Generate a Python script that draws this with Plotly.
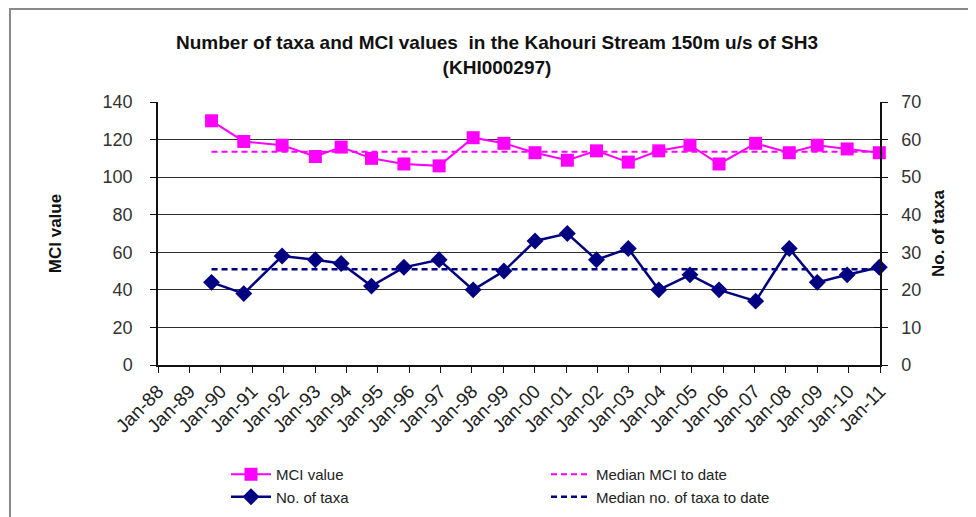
import plotly.graph_objects as go

# ---- data ----
sample_dates = ["1989-09-15", "1990-09-25", "1991-12-15", "1993-01-05", "1993-11-01",
                "1994-10-20", "1995-11-01", "1996-12-15", "1998-01-15", "1999-01-08",
                "2000-01-05", "2001-01-15", "2001-12-20", "2002-12-25", "2003-12-15",
                "2004-12-12", "2005-11-15", "2007-01-15", "2008-02-10", "2009-01-01",
                "2009-12-15", "2010-12-24"]
mci_values = [130, 119, 117, 111, 116, 110, 107, 106, 121, 118, 113,
              109, 114, 108, 114, 117, 107, 118, 113, 117, 115, 113]
taxa_counts = [22, 19, 29, 28, 27, 21, 26, 28, 20, 25, 33,
               35, 28, 31, 20, 24, 20, 17, 31, 22, 24, 26]
median_mci = 113.5
median_taxa = 25.5

x_start, x_end = "1988-01-01", "2011-01-01"
mci_range = [0, 140]
taxa_range = [0, 70]

# page offset of the figure inside the html body (default 8px body margin)
OFF = 8
PAGE_W, PAGE_H = 976, 517
W, H = PAGE_W - OFF, PAGE_H - OFF
# plot area in page pixels
P_LEFT, P_RIGHT, P_TOP, P_BOTTOM = 158, 880, 102, 365
ML, MT = P_LEFT - OFF, P_TOP - OFF
PW, PH = P_RIGHT - P_LEFT, P_BOTTOM - P_TOP
MR, MB = W - ML - PW, H - MT - PH

FONT = "Liberation Sans, Arial, sans-serif"
NARROW = "Liberation Sans Narrow, Arial Narrow, Liberation Sans, sans-serif"
MAGENTA = "#FF00FF"
NAVY = "#000080"

fig = go.Figure()

median_x = [sample_dates[0], sample_dates[-1]]

fig.add_trace(go.Scatter(
    x=median_x, y=[median_mci, median_mci], mode="lines", name="Median MCI to date",
    line=dict(color=MAGENTA, width=2, dash="6px,4px"), legendrank=2, yaxis="y"))
fig.add_trace(go.Scatter(
    x=sample_dates, y=mci_values, mode="lines+markers", name="MCI value",
    line=dict(color=MAGENTA, width=2),
    marker=dict(symbol="square", size=13, color=MAGENTA),
    cliponaxis=False, legendrank=1, yaxis="y"))
fig.add_trace(go.Scatter(
    x=median_x, y=[median_taxa, median_taxa], mode="lines", name="Median no. of taxa to date",
    line=dict(color=NAVY, width=2.5, dash="6px,4px"), legendrank=4, yaxis="y2"))
fig.add_trace(go.Scatter(
    x=sample_dates, y=taxa_counts, mode="lines+markers", name="No. of taxa",
    line=dict(color=NAVY, width=2.5),
    marker=dict(symbol="diamond", size=13, color=NAVY),
    cliponaxis=False, legendrank=3, yaxis="y2"))

def px_x(p):
    """page pixel x -> paper fraction"""
    return (p - P_LEFT) / PW

def px_y(p):
    """page pixel y -> paper fraction"""
    return (P_BOTTOM - p) / PH

fig.update_layout(
    width=W, height=H,
    margin=dict(l=ML, r=MR, t=MT, b=MB, autoexpand=False),
    paper_bgcolor="white", plot_bgcolor="white",
    font=dict(family=FONT, color="#222222"),
    title=dict(
        text="Number of taxa and MCI values  in the Kahouri Stream 150m u/s of SH3<br>(KHI000297)",
        x=(497 - OFF) / W, xanchor="center", xref="container",
        y=1 - (49 - OFF) / H, yanchor="top", yref="container",
        font=dict(family=FONT, size=19, color="#111111", weight="bold")),
    xaxis=dict(
        type="date", range=[x_start, x_end], tick0=x_start, dtick="M12",
        tickformat="%b-%y", tickangle=-45, ticks="outside", ticklen=6,
        tickcolor="#111111", showline=True, linecolor="#111111", linewidth=1.5,
        showgrid=False, zeroline=False,
        tickfont=dict(family=FONT, size=19, color="#222222")),
    yaxis=dict(
        range=mci_range, dtick=20, ticks="outside", ticklen=6, tickcolor="#111111",
        showline=True, linecolor="#111111", linewidth=1.5,
        showgrid=True, gridcolor="#2e2e2e", gridwidth=1.3, zeroline=False,
        ticklabelstandoff=14,
        tickfont=dict(family=FONT, size=18, color="#333333"),
        title=dict(text="MCI value", standoff=37,
                   font=dict(family=FONT, size=17, color="#111111", weight="bold"))),
    yaxis2=dict(
        range=taxa_range, dtick=10, overlaying="y", side="right", anchor="x",
        ticks="outside", ticklen=6, tickcolor="#111111",
        showline=True, linecolor="#111111", linewidth=1.5,
        showgrid=False, zeroline=False, ticklabelstandoff=10,
        tickfont=dict(family=FONT, size=18, color="#333333"),
        title=dict(text="No. of taxa", standoff=12,
                   font=dict(family=FONT, size=17, color="#111111", weight="bold"))),
    yaxis3=dict(
        range=taxa_range, dtick=10, overlaying="y", side="right", anchor="x",
        ticks="inside", ticklen=6, tickcolor="#111111", showticklabels=False,
        showline=False, showgrid=False, zeroline=False),
    legend=dict(
        orientation="h", x=px_x(226), xanchor="left", y=px_y(458), yanchor="top",
        entrywidth=265, itemwidth=40, traceorder="normal",
        font=dict(family=NARROW, size=15, color="#222222"),
        bgcolor="rgba(0,0,0,0)"),
    showlegend=True,
    shapes=[dict(type="rect", xref="paper", yref="paper",
                 x0=px_x(10), x1=px_x(PAGE_W + 20), y0=px_y(PAGE_H + 20), y1=px_y(9),
                 line=dict(color="#8a8a8a", width=2), layer="below")],
)

# empty trace on the overlay axis that gives the right axis its crossing tick marks
fig.add_trace(go.Scatter(x=[None], y=[None], yaxis="y3", showlegend=False, hoverinfo="skip"))

fig.write_html("out.html")
